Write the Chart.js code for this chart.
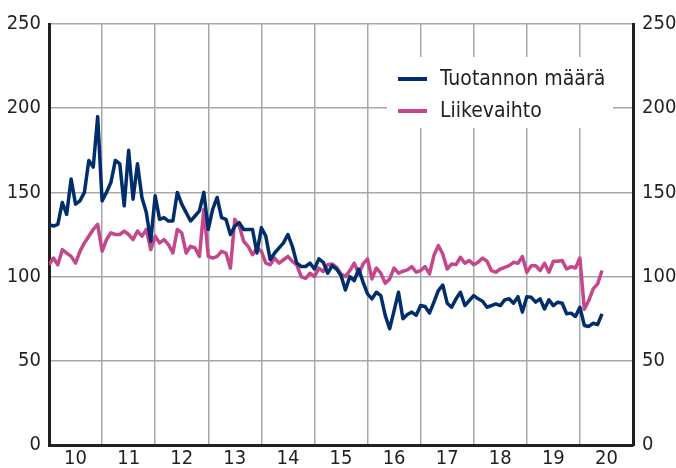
<!DOCTYPE html>
<html>
<head>
<meta charset="utf-8">
<script src="https://cdn.jsdelivr.net/npm/chart.js@4.4.1/dist/chart.umd.min.js"></script>
<style>
  html, body { margin: 0; padding: 0; background: #fff; }
</style>
</head>
<body>
<canvas id="chart" width="676" height="468"></canvas>
<script>
// year labels under the x axis (2010 - 2020), one per year band
const yearLabels = ['10', '11', '12', '13', '14', '15', '16', '17', '18', '19', '20'];

// monthly index values, Jan 2010 -> Jun 2020
const tuotannonMaara = [
  131, 130, 131, 144, 137, 158, 143, 145, 150, 169, 165, 195,
  145, 150, 156, 169, 167, 142, 175, 146, 167, 147, 138, 121,
  148, 134, 135, 133, 133, 150, 143, 138, 133, 136, 139, 150,
  128, 140, 147, 135, 134, 125, 130, 132, 128, 128, 128, 114,
  129, 124, 110, 114, 117, 120, 125, 118, 108, 106, 106, 108,
  104.5, 110.5, 108.5, 102, 106.5, 104.5, 100.6, 92, 100, 97.6, 104.5, 96.6,
  89.7, 86.8, 90.7, 88.7, 77, 69, 79.8, 90.7, 75, 77.5, 78.9, 77,
  82.8, 82.2, 78.3, 84.8, 91.7, 95, 84.2, 81.8, 86.8, 90.7, 82.8, 85.8,
  88.7, 86.8, 85.4, 81.8, 82.8, 83.8, 82.8, 86.2, 86.8, 84.2, 88.1, 78.9,
  88.1, 87.7, 84.8, 86.8, 80.8, 86.2, 82.8, 84.8, 84.2, 77.9, 78.3, 76.3,
  81.8, 71, 70.4, 72.3, 71.5, 77.9
];

const liikevaihto = [
  107, 111, 107, 116, 114, 112, 108, 115, 120, 124, 128, 131,
  115, 122, 126, 125, 125, 127, 125, 122, 127, 124, 128, 116,
  124, 120, 122, 119, 114, 128, 126, 114, 118, 117, 112, 140,
  112, 111, 112, 115, 114, 105, 134, 130, 121, 118, 113, 117,
  115, 108, 107, 111, 108, 110, 112, 109, 107, 100, 99, 102,
  100, 105, 103, 107, 107.5, 105.5, 101.6, 100, 103.6, 108, 101.6, 107.5,
  110.5, 98.6, 105.1, 102, 96, 98.6, 105.1, 102, 103.2, 104, 105.9, 102.6,
  103.6, 105.9, 101.6, 112.5, 118.4, 113.4, 104.5, 107.5, 107.1, 111.5, 107.9, 109.5,
  107.1, 108.5, 111, 109.1, 103.6, 102.6, 104.5, 105.5, 106.5, 108.5, 107.9, 111.9,
  102.6, 106.5, 106.5, 103.6, 107.9, 102.6, 109.1, 109.1, 109.5, 104.5, 105.9, 105.1,
  111, 80.6, 85.8, 92.7, 95.7, 103.6
];

const textColor = '#231f20';
const gridColor = '#a8a8a8';
const axisColor = '#231f20';
const blue = '#002d6b';
const pink = '#c4478b';
const fontFamily = "'DejaVu Sans Condensed', 'Liberation Sans', sans-serif";

Chart.defaults.font.family = fontFamily;
Chart.defaults.color = textColor;

const toPoints = arr => arr.map((v, i) => ({ x: i, y: v }));

// legend drawn inside the plot on a white box
const legendBox = {
  id: 'legendBox',
  beforeDatasetsDraw(chart) {
    const ctx = chart.ctx;
    const x0 = 387, y0 = 57;
    ctx.save();
    ctx.fillStyle = '#fff';
    ctx.fillRect(x0, y0, 226, 71);
    ctx.font = '21px ' + fontFamily;
    ctx.textBaseline = 'middle';
    chart.data.datasets.forEach((ds, i) => {
      const y = y0 + 22 + i * 32;
      ctx.strokeStyle = ds.borderColor;
      ctx.lineWidth = 4;
      ctx.beginPath();
      ctx.moveTo(x0 + 11, y);
      ctx.lineTo(x0 + 40, y);
      ctx.stroke();
      ctx.fillStyle = textColor;
      ctx.fillText(ds.label, x0 + 53, y + 1);
    });
    ctx.restore();
  }
};

new Chart(document.getElementById('chart'), {
  type: 'line',
  data: {
    datasets: [
      {
        label: 'Tuotannon määrä',
        data: toPoints(tuotannonMaara),
        borderColor: blue,
        borderWidth: 3.5,
        pointRadius: 0,
        borderJoinStyle: 'round'
      },
      {
        label: 'Liikevaihto',
        data: toPoints(liikevaihto),
        borderColor: pink,
        borderWidth: 3.5,
        pointRadius: 0,
        borderJoinStyle: 'round'
      }
    ]
  },
  options: {
    responsive: false,
    animation: false,
    layout: { padding: { top: 24, left: 0, right: 0, bottom: 0 } },
    plugins: { legend: { display: false }, tooltip: { enabled: false } },
    scales: {
      x: {
        type: 'linear',
        min: 0,
        max: 132,
        afterBuildTicks: axis => {
          axis.ticks = [];
          for (let m = 0; m <= 132; m += 6) axis.ticks.push({ value: m });
        },
        afterFit: axis => { axis.height = 23; },
        grid: {
          color: ctx => (ctx.tick && ctx.tick.value % 12 === 0) ? gridColor : 'rgba(0,0,0,0)',
          lineWidth: 1.5,
          drawTicks: false
        },
        border: { color: axisColor, width: 3 },
        ticks: {
          autoSkip: false,
          maxRotation: 0,
          padding: 2,
          font: { size: 20 },
          callback: v => (v % 12 === 6) ? yearLabels[(v - 6) / 12] : ''
        }
      },
      y: {
        position: 'left',
        min: 0,
        max: 250,
        afterFit: axis => { axis.width = 49; },
        grid: { color: gridColor, lineWidth: 1.5, drawTicks: false },
        border: { color: axisColor, width: 3 },
        ticks: { stepSize: 50, padding: 8, font: { size: 20 } }
      },
      y2: {
        position: 'right',
        min: 0,
        max: 250,
        afterFit: axis => { axis.width = 43; },
        grid: { display: false, drawTicks: false },
        border: { color: axisColor, width: 3 },
        ticks: { stepSize: 50, padding: 9, font: { size: 20 } }
      }
    }
  },
  plugins: [legendBox]
});
</script>
</body>
</html>
